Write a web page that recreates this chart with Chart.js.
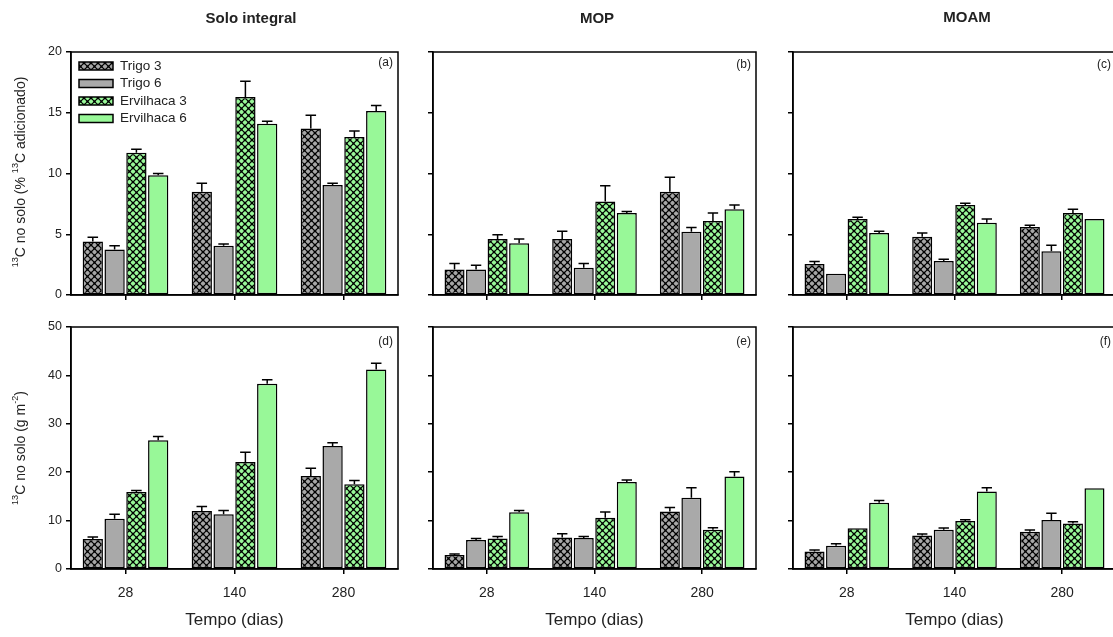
<!DOCTYPE html>
<html>
<head>
<meta charset="utf-8">
<script src="https://cdn.jsdelivr.net/npm/chart.js@4.4.0/dist/chart.umd.min.js"></script>
<style>
  body { margin: 0; background: #fff; overflow: hidden; width: 1113px; height: 637px; position: relative; }
  canvas { position: absolute; }
</style>
</head>
<body>
<canvas id="pa"></canvas>
<canvas id="pb"></canvas>
<canvas id="pc"></canvas>
<canvas id="pd"></canvas>
<canvas id="pe"></canvas>
<canvas id="pf"></canvas>
<script>
const categories = ['28', '140', '280'];
const series_names = ['Trigo 3', 'Trigo 6', 'Ervilhaca 3', 'Ervilhaca 6'];

// (a) solo integral, % 13C adicionado
const solo_pct = [[4.4, 8.5, 13.7], [3.75, 4.05, 9.05], [11.7, 16.3, 13.0], [9.85, 14.1, 15.15]];
const solo_pct_err = [[0.35, 0.7, 1.1], [0.3, 0.15, 0.15], [0.3, 1.3, 0.5], [0.15, 0.2, 0.45]];
// (b) MOP, %
const mop_pct = [[2.1, 4.6, 8.5], [2.1, 2.25, 5.2], [4.6, 7.7, 6.1], [4.25, 6.75, 7.05]];
const mop_pct_err = [[0.5, 0.65, 1.2], [0.35, 0.35, 0.35], [0.35, 1.3, 0.65], [0.35, 0.12, 0.35]];
// (c) MOAM, %
const moam_pct = [[2.55, 4.8, 5.6], [1.75, 2.8, 3.6], [6.25, 7.4, 6.75], [5.1, 5.95, 6.25]];
const moam_pct_err = [[0.2, 0.3, 0.15], [0, 0.15, 0.5], [0.15, 0.15, 0.3], [0.15, 0.3, 0]];
// (d) solo integral, g m-2
const solo_g = [[6.2, 12.0, 19.2], [10.4, 11.3, 25.4], [15.9, 22.1, 17.5], [26.6, 38.3, 41.2]];
const solo_g_err = [[0.4, 0.9, 1.6], [0.9, 0.8, 0.7], [0.3, 2.0, 0.8], [0.8, 0.8, 1.3]];
// (e) MOP, g m-2
const mop_g = [[2.9, 6.5, 11.9], [6.0, 6.4, 14.7], [6.3, 10.6, 8.1], [11.7, 18.0, 19.1]];
const mop_g_err = [[0.2, 0.8, 0.8], [0.3, 0.3, 2.1], [0.4, 1.2, 0.4], [0.4, 0.4, 1.0]];
// (f) MOAM, g m-2
const moam_g = [[3.6, 6.9, 7.7], [4.8, 8.1, 10.1], [8.4, 9.9, 9.4], [13.7, 16.0, 16.7]];
const moam_g_err = [[0.35, 0.35, 0.35], [0.4, 0.35, 1.4], [0, 0.3, 0.35], [0.45, 0.8, 0]];

const FONT = "'Liberation Sans', Arial, sans-serif";
const TXT = '#222';

function hatch(bg) {
    const c = document.createElement('canvas');
    c.width = 7; c.height = 7;
    const g = c.getContext('2d');
    g.fillStyle = bg;
    g.fillRect(0, 0, 7, 7);
    g.strokeStyle = '#000';
    g.lineWidth = 1.2;
    g.beginPath();
    g.moveTo(0, 0); g.lineTo(7, 7);
    g.moveTo(7, 0); g.lineTo(0, 7);
    g.stroke();
    g.fillStyle = '#000';
    g.fillRect(2.5, 2.5, 2, 2);
    g.fillRect(0, 0, 1.2, 1.2); g.fillRect(5.8, 0, 1.2, 1.2); g.fillRect(0, 5.8, 1.2, 1.2); g.fillRect(5.8, 5.8, 1.2, 1.2);
    return g.createPattern(c, 'repeat');
}

const fills = [hatch('#a6a6a6'), '#a9a9a9', hatch('#98f898'), '#98f898'];

// draws text with superscript parts, rotated -90 degrees, centred at (cx, cy)
function richText(ctx, parts, cx, cy, size) {
    ctx.save();
    ctx.translate(cx, cy);
    ctx.rotate(-Math.PI / 2);
    const small = size * 0.65;
    let total = 0;
    parts.forEach(p => {
        ctx.font = (p.sup ? small : size) + 'px ' + FONT;
        p.w = ctx.measureText(p.t).width;
        total += p.w;
    });
    let x = -total / 2;
    ctx.fillStyle = TXT;
    ctx.textBaseline = 'middle';
    ctx.textAlign = 'left';
    parts.forEach(p => {
        ctx.font = (p.sup ? small : size) + 'px ' + FONT;
        ctx.fillText(p.t, x, p.sup ? -size * 0.4 : 0);
        x += p.w;
    });
    ctx.restore();
}

const decor = {
    id: 'decor',
    afterDatasetsDraw(chart) {
        const ctx = chart.ctx;
        const y = chart.scales.y;
        // error bars
        chart.data.datasets.forEach((ds, di) => {
            const meta = chart.getDatasetMeta(di);
            meta.data.forEach((el, i) => {
                const e = ds.err[i];
                if (!e) return;
                const top = y.getPixelForValue(ds.data[i] + e);
                const half = el.width * 0.26;
                ctx.save();
                ctx.strokeStyle = '#000';
                ctx.lineWidth = 1.5;
                ctx.beginPath();
                ctx.moveTo(el.x, el.y);
                ctx.lineTo(el.x, top);
                ctx.moveTo(el.x - half, top);
                ctx.lineTo(el.x + half, top);
                ctx.stroke();
                ctx.restore();
            });
        });
    },
    afterDraw(chart) {
        const ctx = chart.ctx;
        const a = chart.chartArea;
        const o = chart.options.plugins.decor;
        ctx.save();
        ctx.strokeStyle = '#000';
        ctx.lineWidth = 1.5;
        ctx.strokeRect(a.left, a.top, a.right - a.left, a.bottom - a.top);
        ctx.fillStyle = TXT;
        ctx.font = '12px ' + FONT;
        ctx.textAlign = 'right';
        ctx.textBaseline = 'middle';
        ctx.fillText(o.tag, a.right - 5, a.top + o.tagDy);
        if (o.title) {
            ctx.font = 'bold 15px ' + FONT;
            ctx.textAlign = 'center';
            ctx.fillText(o.title, o.titleX, o.titleY);
        }
        if (o.xTitle) {
            ctx.font = '17px ' + FONT;
            ctx.textAlign = 'center';
            ctx.fillText(o.xTitle, (a.left + a.right) / 2, o.xTitleY);
        }
        if (o.legend) {
            chart.data.datasets.forEach((ds, i) => {
                const ly = a.top + 14 + i * 17.5;
                ctx.fillStyle = ds.backgroundColor;
                ctx.fillRect(a.left + 8, ly - 4, 34, 8);
                ctx.lineWidth = 1.5;
                ctx.strokeRect(a.left + 8, ly - 4, 34, 8);
                ctx.fillStyle = TXT;
                ctx.font = '13.5px ' + FONT;
                ctx.textAlign = 'left';
                ctx.fillText(ds.label, a.left + 49, ly);
            });
        }
        if (o.yTitle) richText(ctx, o.yTitle, o.yTitleX, o.yTitleY, 14);
        ctx.restore();
    }
};

function makePanel(id, box, vals, errs, opt) {
    const cv = document.getElementById(id);
    cv.style.left = box.left + 'px';
    cv.style.top = box.top + 'px';
    cv.width = box.w; cv.height = box.h;
    cv.style.width = box.w + 'px'; cv.style.height = box.h + 'px';
    return new Chart(cv, {
        type: 'bar',
        data: {
            labels: categories,
            datasets: series_names.map((n, i) => ({
                label: n,
                data: vals[i],
                err: errs[i],
                backgroundColor: fills[i],
                borderColor: '#000',
                borderWidth: 1.5,
                borderSkipped: false,
                categoryPercentage: 0.8,
                barPercentage: 0.93
            }))
        },
        options: {
            responsive: false,
            animation: false,
            layout: { padding: { top: box.padTop, right: box.padRight, left: 0, bottom: 0 } },
            plugins: {
                legend: { display: false },
                tooltip: { enabled: false },
                decor: opt
            },
            scales: {
                x: {
                    grid: { display: true, drawOnChartArea: false, offset: false, color: '#000', lineWidth: 1.5, tickLength: 5 },
                    border: { display: true, color: '#000', width: 1.5 },
                    ticks: {
                        display: box.xLabels,
                        color: TXT,
                        padding: 11,
                        font: { family: FONT, size: 14 }
                    },
                    afterFit: s => { s.height = box.xH; }
                },
                y: {
                    min: 0, max: opt.max,
                    grid: { display: true, drawOnChartArea: false, color: '#000', lineWidth: 1.5, tickLength: 5 },
                    border: { display: true, color: '#000', width: 1.5 },
                    ticks: {
                        stepSize: opt.step,
                        color: TXT,
                        padding: 4,
                        font: { family: FONT, size: 12.5 },
                        callback: v => box.yLabels ? v : ''
                    },
                    afterFit: s => { s.width = box.yW; }
                }
            }
        },
        plugins: [decor]
    });
}

const topRow = { top: 0, h: 310, padTop: 52, xH: 15, xLabels: false };
const botRow = { top: 310, h: 327, padTop: 17, xH: 68, xLabels: true };
const col1 = { left: 0, w: 410, yW: 71, padRight: 12, yLabels: true };
const col2 = { left: 410, w: 360, yW: 23, padRight: 14, yLabels: false };
const col3 = { left: 770, w: 370, yW: 23, padRight: 24, yLabels: false };

const yTop = [{ t: '13', sup: true }, { t: 'C no solo (% ' }, { t: '13', sup: true }, { t: 'C adicionado)' }];
const yBot = [{ t: '13', sup: true }, { t: 'C no solo (g m' }, { t: '-2', sup: true }, { t: ')' }];

makePanel('pa', { ...topRow, ...col1 }, solo_pct, solo_pct_err,
    { max: 20, step: 5, tag: '(a)', tagDy: 11, title: 'Solo integral', titleX: 251, titleY: 19, legend: true, yTitle: yTop, yTitleX: 21, yTitleY: 172 });
makePanel('pb', { ...topRow, ...col2 }, mop_pct, mop_pct_err,
    { max: 20, step: 5, tag: '(b)', tagDy: 13, title: 'MOP', titleX: 187, titleY: 19 });
makePanel('pc', { ...topRow, ...col3 }, moam_pct, moam_pct_err,
    { max: 20, step: 5, tag: '(c)', tagDy: 13, title: 'MOAM', titleX: 197, titleY: 18 });
makePanel('pd', { ...botRow, ...col1 }, solo_g, solo_g_err,
    { max: 50, step: 10, tag: '(d)', tagDy: 15, xTitle: 'Tempo (dias)', xTitleY: 310, yTitle: yBot, yTitleX: 21, yTitleY: 138 });
makePanel('pe', { ...botRow, ...col2 }, mop_g, mop_g_err,
    { max: 50, step: 10, tag: '(e)', tagDy: 15, xTitle: 'Tempo (dias)', xTitleY: 310 });
makePanel('pf', { ...botRow, ...col3 }, moam_g, moam_g_err,
    { max: 50, step: 10, tag: '(f)', tagDy: 15, xTitle: 'Tempo (dias)', xTitleY: 310 });
</script>
</body>
</html>
